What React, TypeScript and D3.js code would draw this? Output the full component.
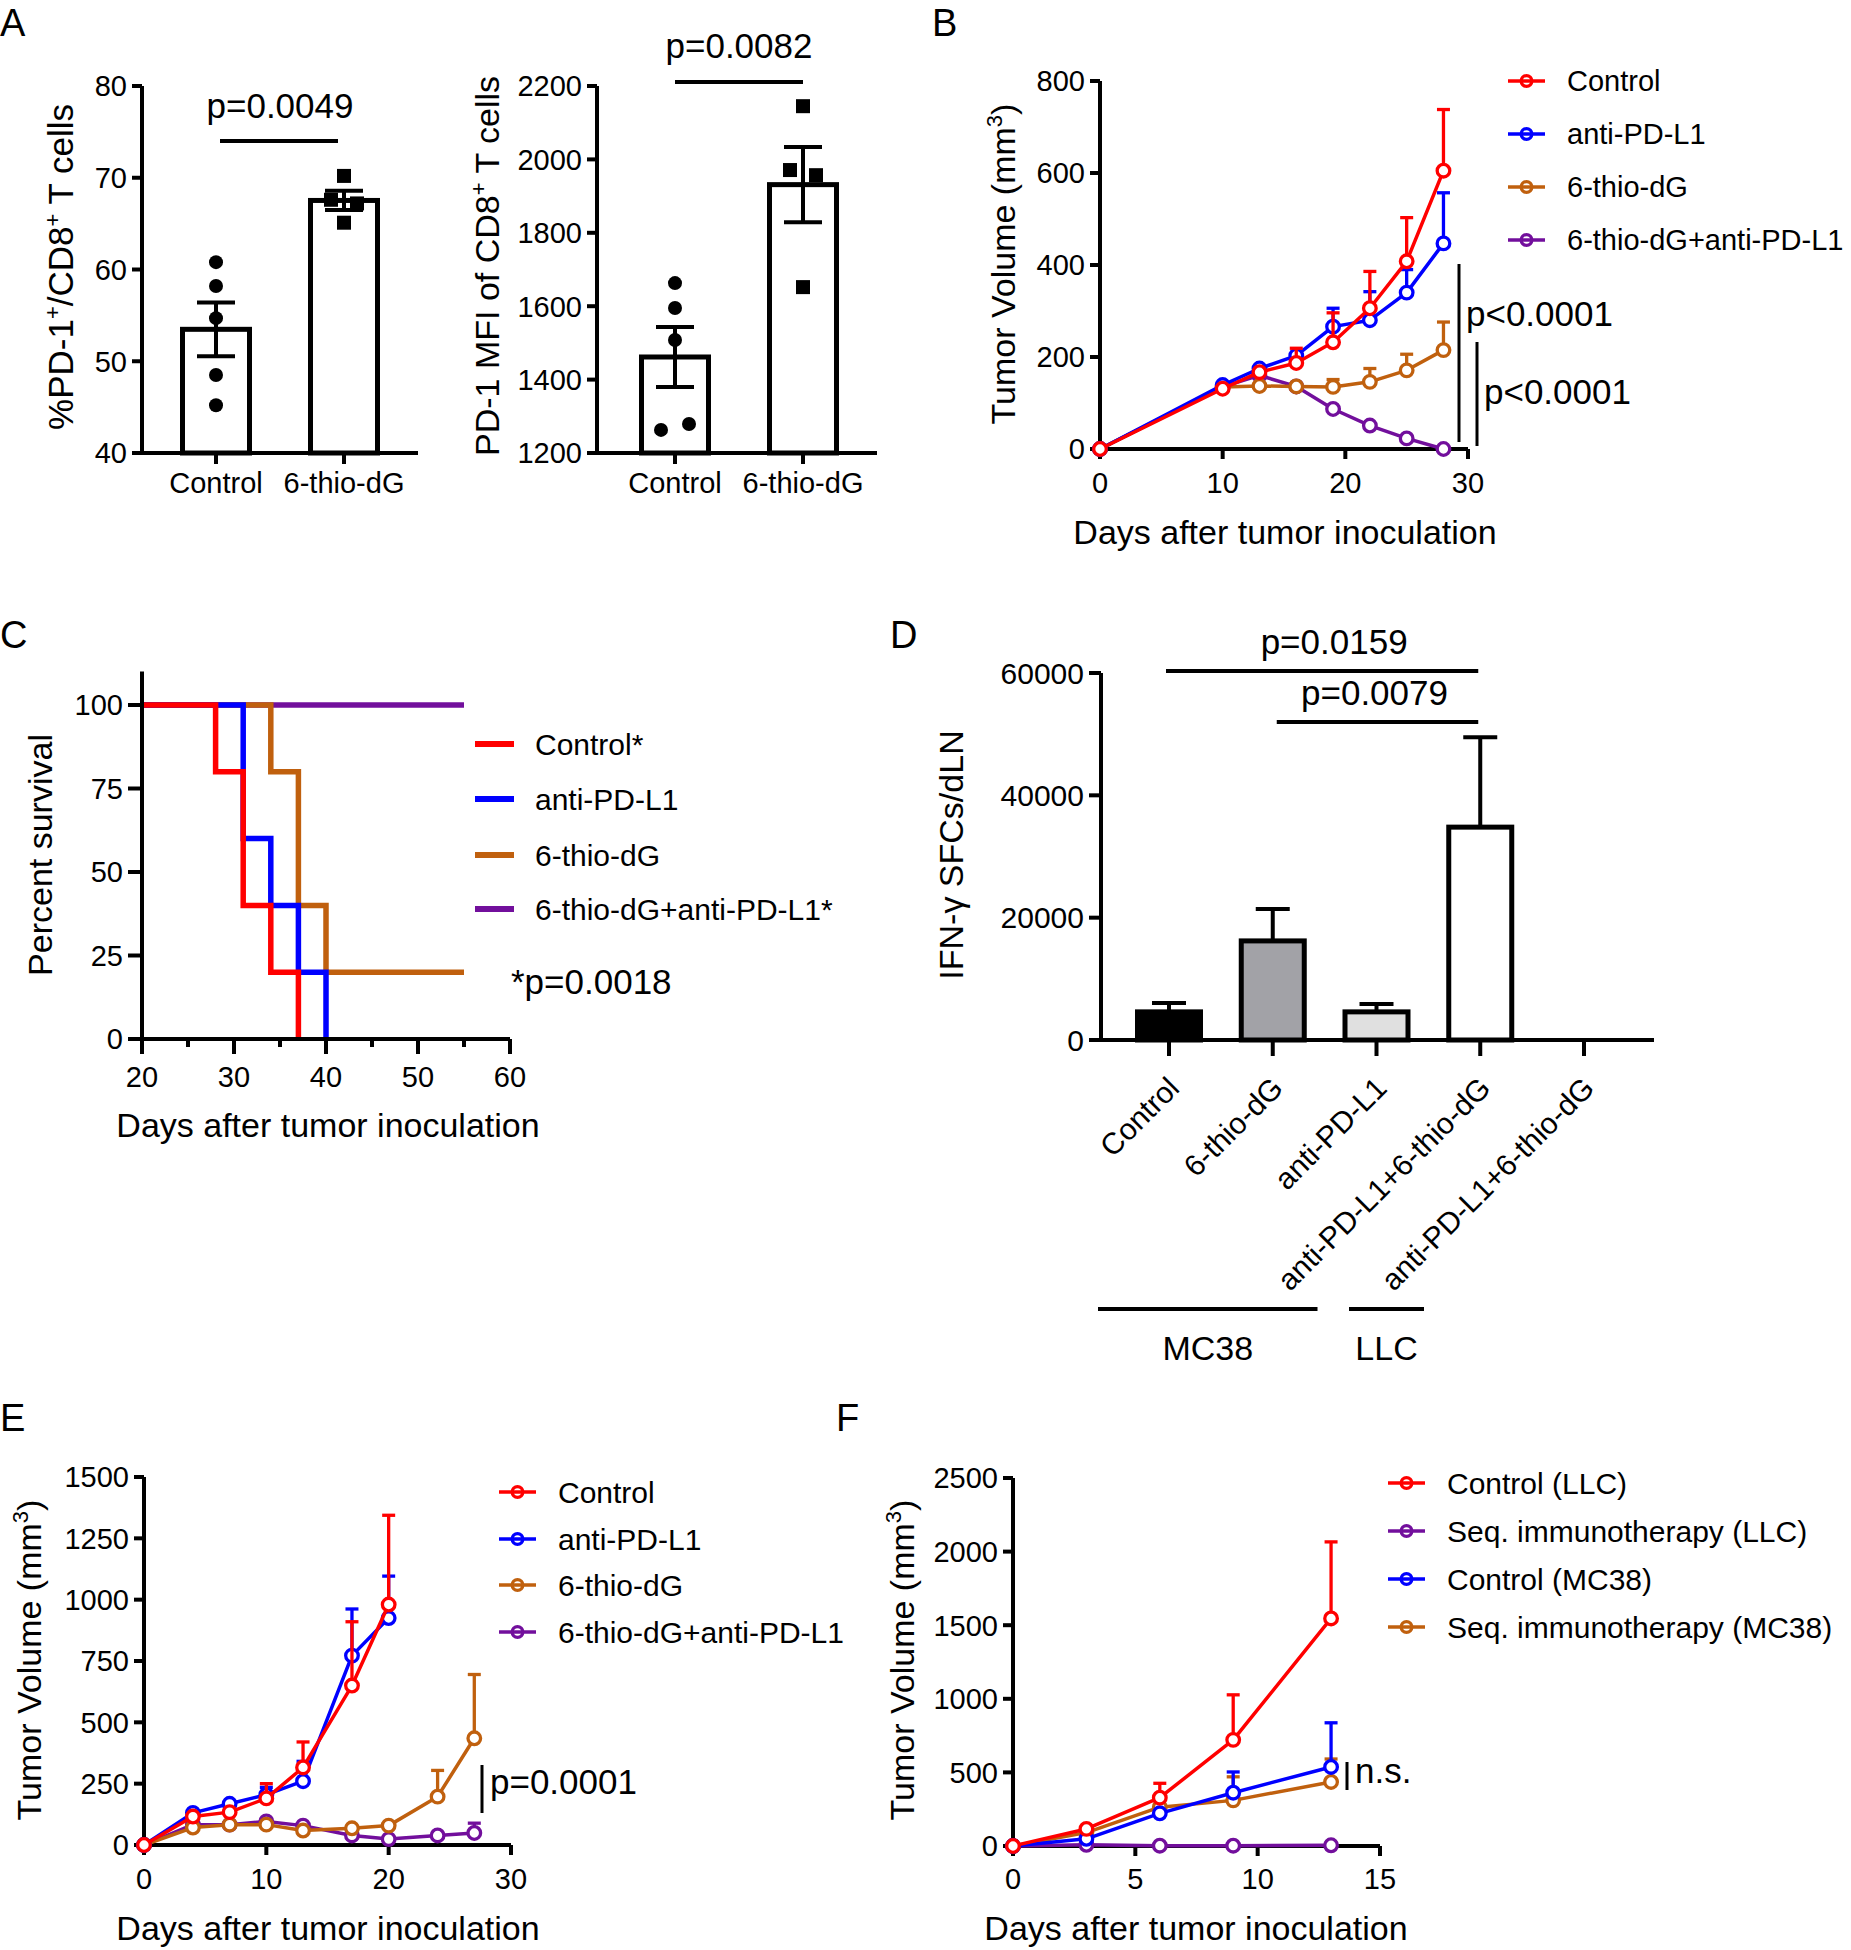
import React from 'react';
import * as d3 from 'd3';

const FONT = '"Liberation Sans", Arial, Helvetica, sans-serif';
const RED = '#ff0000';
const BLUE = '#0000ff';
const ORANGE = '#c0600e';
const PURPLE = '#720f9c';
const INK = '#000000';

// ---------------- Panel A ----------------
const aGroups = ['Control', '6-thio-dG'];
const a1Values = [[60.8, 58.2, 54.7, 48.5, 45.2], [70.2, 67.6, 67.2, 65.1]];
const a1Jitter = [[0, 0, 0, 0, 0], [0, -1, 1, 0]];
const a1Ticks = [40, 50, 60, 70, 80];
const a1P = 'p=0.0049';

const a2Values = [[1663, 1595, 1508, 1263, 1279], [2145, 1971, 1957, 1652]];
const a2Jitter = [[0, 0, 0, -1, 1], [0, -1, 1, 0]];
const a2Ticks = [1200, 1400, 1600, 1800, 2000, 2200];
const a2P = 'p=0.0082';

// ---------------- Panel B ----------------
const bDays = [0, 10, 13, 16, 19, 22, 25, 28];
const bNames = ['Control', 'anti-PD-L1', '6-thio-dG', '6-thio-dG+anti-PD-L1'];
const bControl = [0, 131, 167, 187, 232, 306, 408, 605];
const bControlSem = [0, 4, 8, 32, 64, 80, 95, 133];
const bAnti = [0, 139, 175, 203, 266, 280, 340, 447];
const bAntiSem = [0, 4, 14, 12, 40, 62, 50, 110];
const bThio = [0, 135, 137, 136, 135, 146, 171, 215];
const bThioSem = [0, 3, 5, 6, 16, 29, 35, 61];
const bCombo = [0, 135, 160, 136, 87, 51, 23, 0];
const bComboSem = [0, 3, 4, 4, 4, 3, 3, 1];
const bXTicks = [0, 10, 20, 30];
const bYTicks = [0, 200, 400, 600, 800];
const bStats = ['p<0.0001', 'p<0.0001'];

// ---------------- Panel C ----------------
const cNames = ['Control*', 'anti-PD-L1', '6-thio-dG', '6-thio-dG+anti-PD-L1*'];
const cTimes = [[20, 28, 31, 34, 37], [20, 31, 34, 37, 40], [20, 34, 37, 40, 55], [20, 55]];
const cSurv = [[100, 80, 40, 20, 0], [100, 60, 40, 20, 0], [100, 80, 40, 20, 20], [100, 100]];
const cXTicks = [20, 30, 40, 50, 60];
const cXMinor = [25, 35, 45, 55];
const cYTicks = [0, 25, 50, 75, 100];
const cStat = '*p=0.0018';

// ---------------- Panel D ----------------
const dLabels = ['Control', '6-thio-dG', 'anti-PD-L1', 'anti-PD-L1+6-thio-dG', 'anti-PD-L1+6-thio-dG'];
const dMeans = [4600, 16200, 4600, 34800, 0];
const dSem = [1450, 5200, 1300, 14700, 0];
const dFills = ['#000000', '#a2a2a7', '#e0e0e0', '#ffffff', 'none'];
const dYTicks = [0, 20000, 40000, 60000];
const dStats = [{ from: 0, to: 3, label: 'p=0.0159' }, { from: 1, to: 3, label: 'p=0.0079' }];
const dTumors = ['MC38', 'LLC'];

// ---------------- Panel E ----------------
const eNames = ['Control', 'anti-PD-L1', '6-thio-dG', '6-thio-dG+anti-PD-L1'];
const eDaysShort = [0, 4, 7, 10, 13, 17, 20];
const eDaysLong = [0, 4, 7, 10, 13, 17, 20, 24, 27];
const eControl = [0, 116, 134, 190, 316, 650, 980];
const eControlSem = [0, 15, 15, 60, 104, 260, 364];
const eAnti = [0, 131, 168, 205, 260, 772, 925];
const eAntiSem = [0, 25, 15, 30, 81, 190, 171];
const eThio = [0, 71, 83, 83, 59, 68, 79, 197, 435];
const eThioSem = [0, 5, 5, 5, 5, 5, 5, 107, 260];
const eCombo = [0, 83, 83, 96, 79, 39, 24, 39, 49];
const eComboSem = [0, 5, 5, 5, 5, 5, 5, 5, 40];
const eXTicks = [0, 10, 20, 30];
const eYTicks = [0, 250, 500, 750, 1000, 1250, 1500];
const eStat = 'p=0.0001';

// ---------------- Panel F ----------------
const fNames = ['Control (LLC)', 'Seq. immunotherapy (LLC)', 'Control (MC38)', 'Seq. immunotherapy (MC38)'];
const fDays = [0, 3, 6, 9, 13];
const fControlLLC = [0, 116, 328, 721, 1546];
const fControlLLCSem = [0, 10, 98, 306, 520];
const fSeqLLC = [0, 8, 2, 2, 5];
const fSeqLLCSem = [0, 0, 0, 0, 0];
const fControlMC38 = [0, 49, 222, 362, 537];
const fControlMC38Sem = [0, 5, 10, 141, 300];
const fSeqMC38 = [0, 91, 264, 310, 435];
const fSeqMC38Sem = [0, 5, 10, 160, 156];
const fXTicks = [0, 5, 10, 15];
const fYTicks = [0, 500, 1000, 1500, 2000, 2500];
const fStat = 'n.s.';

type Series = { name: string; color: string; days: number[]; mean: number[]; sem: number[] };

const Txt = (p: any) => <text fontFamily={FONT} fill={INK} {...p} />;

function LeftAxis({ scale, x, ticks, tickLen = 10, fs = 29, gap = 5 }: any) {
  const [y0, y1] = scale.range();
  return (
    <g>
      <line x1={x} x2={x} y1={y0 + 2} y2={y1} stroke={INK} strokeWidth={4} />
      {ticks.map((t: number) => (
        <g key={t}>
          <line x1={x - tickLen} x2={x} y1={scale(t)} y2={scale(t)} stroke={INK} strokeWidth={4} />
          <Txt x={x - tickLen - gap} y={scale(t)} dy="0.36em" textAnchor="end" fontSize={fs}>{t}</Txt>
        </g>
      ))}
    </g>
  );
}

function BottomAxis({ x0, x1, y }: any) {
  return <line x1={x0 - 2} x2={x1} y1={y} y2={y} stroke={INK} strokeWidth={4} />;
}

// ---------- Bar + dot panel (A) ----------
function BarDots({ values, jitter, ticks, yDomain, axisX, axisRight, centers, pText, pY, pTextY, label }: any) {
  const y = d3.scaleLinear().domain(yDomain).range([453, 86]);
  const x = d3.scalePoint<string>().domain(aGroups).range(centers);
  const baseY = y(yDomain[0]);
  const half = 33.5;
  return (
    <g>
      {aGroups.map((g, i) => {
        const vals = values[i];
        const m = d3.mean(vals) as number;
        const sem = (d3.deviation(vals) as number) / Math.sqrt(vals.length);
        const cx = x(g) as number;
        return (
          <g key={g}>
            <rect x={cx - half} y={y(m)} width={half * 2} height={baseY - y(m)} fill="#fff" stroke={INK} strokeWidth={5} />
            <line x1={cx} x2={cx} y1={y(m - sem)} y2={y(m + sem)} stroke={INK} strokeWidth={4} />
            <line x1={cx - 19} x2={cx + 19} y1={y(m - sem)} y2={y(m - sem)} stroke={INK} strokeWidth={4} />
            <line x1={cx - 19} x2={cx + 19} y1={y(m + sem)} y2={y(m + sem)} stroke={INK} strokeWidth={4} />
            {vals.map((v: number, j: number) =>
              i === 0 ? (
                <circle key={j} cx={cx + jitter[i][j] * 14} cy={y(v)} r={7} fill={INK} />
              ) : (
                <rect key={j} x={cx + jitter[i][j] * 13 - 7} y={y(v) - 7} width={14} height={14} fill={INK} />
              )
            )}
            <line x1={cx} x2={cx} y1={baseY} y2={baseY + 11} stroke={INK} strokeWidth={4} />
            <Txt x={cx} y={493} textAnchor="middle" fontSize={29}>{g}</Txt>
          </g>
        );
      })}
      <LeftAxis scale={y} x={axisX} ticks={ticks} />
      <BottomAxis x0={axisX} x1={axisRight} y={baseY} />
      <line x1={(x(aGroups[0]) as number) + (pY < 100 ? 0 : 4)} x2={(x(aGroups[1]) as number) - (pY < 100 ? 0 : 6)} y1={pY} y2={pY} stroke={INK} strokeWidth={4} />
      <Txt x={((x(aGroups[0]) as number) + (x(aGroups[1]) as number)) / 2} y={pTextY} textAnchor="middle" fontSize={35}>{pText}</Txt>
      {label}
    </g>
  );
}

// ---------- Growth curve panel (B, E, F) ----------
function Growth({ x, y, series, xTicks, yTicks, xLabelY, legendX, legendYs, legendOrder, legendFs = 30 }: any) {
  const [xr0, xr1] = x.range();
  const y0 = y(0);
  const r = 6.3;
  const line = d3.line<[number, number]>().x((d) => x(d[0])).y((d) => y(d[1]));
  const drawOrder = [...series].reverse();
  return (
    <g>
      <LeftAxis scale={y} x={xr0} ticks={yTicks} />
      <BottomAxis x0={xr0} x1={xr1} y={y0} />
      {xTicks.map((t: number) => (
        <g key={t}>
          <line x1={x(t)} x2={x(t)} y1={y0} y2={y0 + 10} stroke={INK} strokeWidth={4} />
          <Txt x={x(t)} y={xLabelY} textAnchor="middle" fontSize={29}>{t}</Txt>
        </g>
      ))}
      {drawOrder.map((s: Series) => {
        const pts = s.days.map((d, i) => [d, s.mean[i]] as [number, number]);
        return (
          <g key={s.name}>
            <path d={line(pts) as string} fill="none" stroke={s.color} strokeWidth={3.5} strokeLinejoin="round" />
            {s.days.map((d, i) => {
              const cx = x(d);
              const cy = y(s.mean[i]);
              const top = y(s.mean[i] + s.sem[i]);
              if (cy - top <= r + 1) return null;
              return (
                <g key={i}>
                  <line x1={cx} x2={cx} y1={cy - r} y2={top} stroke={s.color} strokeWidth={3.3} />
                  <line x1={cx - 6.5} x2={cx + 6.5} y1={top} y2={top} stroke={s.color} strokeWidth={3.3} />
                </g>
              );
            })}
            {s.days.map((d, i) => (
              <circle key={'c' + i} cx={x(d)} cy={y(s.mean[i])} r={r} fill="#fff" stroke={s.color} strokeWidth={3.3} />
            ))}
          </g>
        );
      })}
      {(legendOrder || series).map((s: Series, i: number) => (
        <g key={'lg' + s.name}>
          <line x1={legendX} x2={legendX + 37} y1={legendYs[i]} y2={legendYs[i]} stroke={s.color} strokeWidth={3.5} />
          <circle cx={legendX + 18.5} cy={legendYs[i]} r={5.3} fill="none" stroke={s.color} strokeWidth={3.3} />
          <Txt x={legendX + 59} y={legendYs[i]} dy="0.35em" fontSize={legendFs}>{s.name}</Txt>
        </g>
      ))}
    </g>
  );
}

function TumorTitle({ x, y }: any) {
  return (
    <Txt transform={`translate(${x},${y}) rotate(-90)`} textAnchor="middle" fontSize={34}>
      Tumor Volume (mm<tspan dy={-13} fontSize={22}>3</tspan>
      <tspan dy={13}>)</tspan>
    </Txt>
  );
}

function PanelB() {
  const x = d3.scaleLinear().domain([0, 30]).range([1100, 1468]);
  const y = d3.scaleLinear().domain([0, 800]).range([449, 81]);
  const series: Series[] = [
    { name: bNames[0], color: RED, days: bDays, mean: bControl, sem: bControlSem },
    { name: bNames[1], color: BLUE, days: bDays, mean: bAnti, sem: bAntiSem },
    { name: bNames[2], color: ORANGE, days: bDays, mean: bThio, sem: bThioSem },
    { name: bNames[3], color: PURPLE, days: bDays, mean: bCombo, sem: bComboSem },
  ];
  return (
    <g>
      <Growth x={x} y={y} series={series} xTicks={bXTicks} yTicks={bYTicks} xLabelY={493} legendX={1508} legendYs={[81, 134, 187, 240]} legendFs={29} />
      <line x1={1459} x2={1459} y1={264} y2={442} stroke={INK} strokeWidth={3} />
      <Txt x={1466} y={326} fontSize={35}>{bStats[0]}</Txt>
      <line x1={1477} x2={1477} y1={342} y2={446} stroke={INK} strokeWidth={3} />
      <Txt x={1484} y={404} fontSize={35}>{bStats[1]}</Txt>
      <TumorTitle x={1015} y={264} />
      <Txt x={1285} y={544} textAnchor="middle" fontSize={34}>Days after tumor inoculation</Txt>
    </g>
  );
}

function PanelC() {
  const x = d3.scaleLinear().domain([20, 60]).range([142, 510]);
  const y = d3.scaleLinear().domain([0, 110]).range([1039, 671.6]);
  const colors = [RED, BLUE, ORANGE, PURPLE];
  const line = d3.line<[number, number]>().x((d) => x(d[0])).y((d) => y(d[1])).curve(d3.curveStepAfter);
  const y0 = y(0);
  const order = [3, 2, 1, 0];
  const legendYs = [744, 799, 855, 909];
  return (
    <g>
      {order.map((i) => (
        <path key={i} d={line(cTimes[i].map((t, j) => [t, cSurv[i][j]] as [number, number])) as string} fill="none" stroke={colors[i]} strokeWidth={5.5} />
      ))}
      <LeftAxis scale={y} x={142} ticks={cYTicks} tickLen={14} />
      <BottomAxis x0={142} x1={510} y={y0} />
      {cXTicks.map((t) => (
        <g key={t}>
          <line x1={x(t)} x2={x(t)} y1={y0} y2={y0 + 15} stroke={INK} strokeWidth={4} />
          <Txt x={x(t)} y={1087} textAnchor="middle" fontSize={29}>{t}</Txt>
        </g>
      ))}
      {cXMinor.map((t) => (
        <line key={t} x1={x(t)} x2={x(t)} y1={y0} y2={y0 + 8} stroke={INK} strokeWidth={4} />
      ))}
      {cNames.map((n, i) => (
        <g key={n}>
          <line x1={475} x2={514} y1={legendYs[i]} y2={legendYs[i]} stroke={colors[i]} strokeWidth={6} />
          <Txt x={535} y={legendYs[i]} dy="0.35em" fontSize={30}>{n}</Txt>
        </g>
      ))}
      <Txt x={511} y={982} dy="0.35em" fontSize={35}>{cStat}</Txt>
      <Txt transform="translate(52,855) rotate(-90)" textAnchor="middle" fontSize={34}>Percent survival</Txt>
      <Txt x={328} y={1137} textAnchor="middle" fontSize={34}>Days after tumor inoculation</Txt>
    </g>
  );
}

function PanelD() {
  const y = d3.scaleLinear().domain([0, 60000]).range([1040, 673]);
  const x = d3.scalePoint<number>().domain(d3.range(dLabels.length)).range([1169, 1584]);
  const y0 = y(0);
  const half = 31.5;
  return (
    <g>
      {dMeans.map((m, i) => {
        const cx = x(i) as number;
        if (m <= 0) return null;
        const top = y(m + dSem[i]);
        return (
          <g key={i}>
            <line x1={cx} x2={cx} y1={y(m)} y2={top} stroke={INK} strokeWidth={4} />
            <line x1={cx - 17} x2={cx + 17} y1={top} y2={top} stroke={INK} strokeWidth={4} />
            <rect x={cx - half} y={y(m)} width={half * 2} height={y0 - y(m)} fill={dFills[i]} stroke={INK} strokeWidth={5} />
          </g>
        );
      })}
      <LeftAxis scale={y} x={1101} ticks={dYTicks} tickLen={12} fs={30} />
      <BottomAxis x0={1101} x1={1654} y={y0} />
      {dLabels.map((l, i) => {
        const cx = x(i) as number;
        return (
          <g key={i}>
            <line x1={cx} x2={cx} y1={y0} y2={y0 + 16} stroke={INK} strokeWidth={4} />
            <Txt transform={`translate(${cx + 12},${y0 + 50}) rotate(-45)`} textAnchor="end" fontSize={30}>{l}</Txt>
          </g>
        );
      })}
      {dStats.map((s, k) => {
        const ly = k === 0 ? 671 : 722;
        const xa = (x(s.from) as number) + (k === 0 ? -3 : 4);
        const xb = (x(s.to) as number) - 2;
        return (
          <g key={k}>
            <line x1={xa} x2={xb} y1={ly} y2={ly} stroke={INK} strokeWidth={4} />
            <Txt x={(xa + xb) / 2 + (k === 0 ? 12 : -3)} y={ly - 17} textAnchor="middle" fontSize={35}>{s.label}</Txt>
          </g>
        );
      })}
      <line x1={(x(0) as number) - 71} x2={(x(2) as number) - 59} y1={1309} y2={1309} stroke={INK} strokeWidth={4} />
      <line x1={(x(4) as number) - 235} x2={(x(4) as number) - 160} y1={1309} y2={1309} stroke={INK} strokeWidth={4} />
      <Txt x={((x(0) as number) - 71 + (x(2) as number) - 59) / 2} y={1360} textAnchor="middle" fontSize={34}>{dTumors[0]}</Txt>
      <Txt x={((x(4) as number) - 235 + (x(4) as number) - 160) / 2} y={1360} textAnchor="middle" fontSize={34}>{dTumors[1]}</Txt>
      <Txt transform="translate(963,855) rotate(-90)" textAnchor="middle" fontSize={34}>IFN-γ SFCs/dLN</Txt>
    </g>
  );
}

function PanelE() {
  const x = d3.scaleLinear().domain([0, 30]).range([144, 511]);
  const y = d3.scaleLinear().domain([0, 1500]).range([1845, 1477]);
  const series: Series[] = [
    { name: eNames[0], color: RED, days: eDaysShort, mean: eControl, sem: eControlSem },
    { name: eNames[1], color: BLUE, days: eDaysShort, mean: eAnti, sem: eAntiSem },
    { name: eNames[2], color: ORANGE, days: eDaysLong, mean: eThio, sem: eThioSem },
    { name: eNames[3], color: PURPLE, days: eDaysLong, mean: eCombo, sem: eComboSem },
  ];
  return (
    <g>
      <Growth x={x} y={y} series={series} xTicks={eXTicks} yTicks={eYTicks} xLabelY={1889} legendX={499} legendYs={[1492, 1539, 1585, 1632]} />
      <line x1={482} x2={482} y1={1765} y2={1813} stroke={INK} strokeWidth={3} />
      <Txt x={490} y={1794} fontSize={35}>{eStat}</Txt>
      <TumorTitle x={41} y={1660} />
      <Txt x={328} y={1940} textAnchor="middle" fontSize={34}>Days after tumor inoculation</Txt>
    </g>
  );
}

function PanelF() {
  const x = d3.scaleLinear().domain([0, 15]).range([1013, 1380]);
  const y = d3.scaleLinear().domain([0, 2500]).range([1846, 1478]);
  const series: Series[] = [
    { name: fNames[0], color: RED, days: fDays, mean: fControlLLC, sem: fControlLLCSem },
    { name: fNames[1], color: PURPLE, days: fDays, mean: fSeqLLC, sem: fSeqLLCSem },
    { name: fNames[2], color: BLUE, days: fDays, mean: fControlMC38, sem: fControlMC38Sem },
    { name: fNames[3], color: ORANGE, days: fDays, mean: fSeqMC38, sem: fSeqMC38Sem },
  ];
  const drawSeries = [series[0], series[2], series[1], series[3]];
  return (
    <g>
      <Growth x={x} y={y} series={drawSeries} legendOrder={series} xTicks={fXTicks} yTicks={fYTicks} xLabelY={1889} legendX={1388} legendYs={[1483, 1531, 1579, 1627]} />
      <line x1={1347} x2={1347} y1={1762} y2={1790} stroke={INK} strokeWidth={3} />
      <Txt x={1355} y={1783} fontSize={35}>{fStat}</Txt>
      <TumorTitle x={914} y={1660} />
      <Txt x={1196} y={1940} textAnchor="middle" fontSize={34}>Days after tumor inoculation</Txt>
    </g>
  );
}

const letters = [
  { t: 'A', x: 0, y: 36 },
  { t: 'B', x: 932, y: 36 },
  { t: 'C', x: 0, y: 648 },
  { t: 'D', x: 890, y: 648 },
  { t: 'E', x: 0, y: 1431 },
  { t: 'F', x: 836, y: 1431 },
];

export default function App() {
  return (
    <svg width={1851} height={1950} viewBox="0 0 1851 1950" style={{ position: 'absolute', left: 0, top: 0, background: '#fff' }}>
      <rect x={0} y={0} width={1851} height={1950} fill="#fff" />
      {letters.map((l) => (
        <Txt key={l.t} x={l.x} y={l.y} fontSize={38}>{l.t}</Txt>
      ))}
      <BarDots
        values={a1Values}
        jitter={a1Jitter}
        ticks={a1Ticks}
        yDomain={[40, 80]}
        axisX={142}
        axisRight={418}
        centers={[216, 344]}
        pText={a1P}
        pY={141}
        pTextY={118}
        label={
          <Txt transform="translate(73,267) rotate(-90)" textAnchor="middle" fontSize={35}>
            %PD-1<tspan dy={-13} fontSize={22}>+</tspan>
            <tspan dy={13}>/CD8</tspan>
            <tspan dy={-13} fontSize={22}>+</tspan>
            <tspan dy={13}> T cells</tspan>
          </Txt>
        }
      />
      <BarDots
        values={a2Values}
        jitter={a2Jitter}
        ticks={a2Ticks}
        yDomain={[1200, 2200]}
        axisX={597}
        axisRight={877}
        centers={[675, 803]}
        pText={a2P}
        pY={82}
        pTextY={58}
        label={
          <Txt transform="translate(499,266) rotate(-90)" textAnchor="middle" fontSize={34}>
            PD-1 MFI of CD8<tspan dy={-13} fontSize={22}>+</tspan>
            <tspan dy={13}> T cells</tspan>
          </Txt>
        }
      />
      <PanelB />
      <PanelC />
      <PanelD />
      <PanelE />
      <PanelF />
    </svg>
  );
}
